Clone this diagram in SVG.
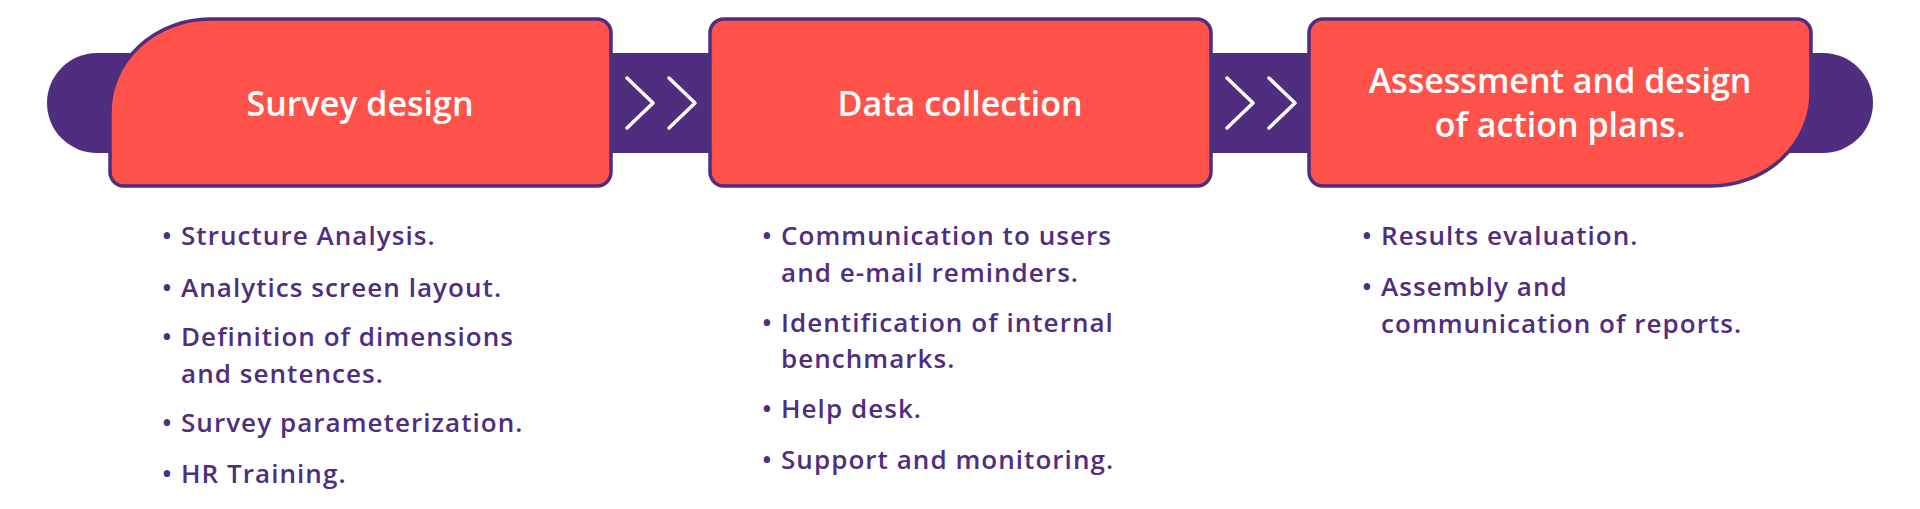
<svg xmlns="http://www.w3.org/2000/svg" width="1920" height="509" viewBox="0 0 1920 509">
<style>
.bar{fill:#4F2D7F}
.box{fill:#FF524A;stroke:#4F2D7F;stroke-width:3.5}
.title{font-family:"Open Sans","Liberation Sans",sans-serif;font-weight:600;font-size:34px;fill:#FFFFFF;text-anchor:middle}
.item{font-family:"Open Sans","Liberation Sans",sans-serif;font-weight:600;font-size:26px;letter-spacing:1.05px;fill:#4F2D7F}
.chev{fill:none;stroke:#FFFFFF;stroke-width:3.5;stroke-linecap:round;stroke-linejoin:round}
</style>
<rect width="1920" height="509" fill="#FFFFFF"/>
<g id="track">
<rect class="bar" x="47" y="53" width="1826" height="100" rx="50" ry="50"/>
</g>
<g id="connectors">
<polyline class="chev" points="627,78 653,103 627,128"/>
<polyline class="chev" points="669,78 695,103 669,128"/>
<polyline class="chev" points="1227,78 1253,103 1227,128"/>
<polyline class="chev" points="1269,78 1295,103 1269,128"/>
</g>
<g id="node-survey-design">
<path class="box" d="M124,186 L597,186 A14,14 0 0 0 611,172 L611,33 A14,14 0 0 0 597,19 L210,19 A100,93 0 0 0 110,112 L110,172 A14,14 0 0 0 124,186 Z"/>
<text class="title" x="360" y="116">Survey design</text>
<g class="item">
<text x="162" y="245">•</text><text x="181" y="245">Structure Analysis.</text>
<text x="162" y="297">•</text><text x="181" y="297">Analytics screen layout.</text>
<text x="162" y="346">•</text><text x="181" y="346">Definition of dimensions</text>
<text x="181" y="383">and sentences.</text>
<text x="162" y="432">•</text><text x="181" y="432">Survey parameterization.</text>
<text x="162" y="483">•</text><text x="181" y="483">HR Training.</text>
</g>
</g>
<g id="node-data-collection">
<path class="box" d="M724,186 L1197,186 A14,14 0 0 0 1211,172 L1211,33 A14,14 0 0 0 1197,19 L724,19 A14,14 0 0 0 710,33 L710,172 A14,14 0 0 0 724,186 Z"/>
<text class="title" x="960" y="116">Data collection</text>
<g class="item">
<text x="762" y="245">•</text><text x="781" y="245">Communication to users</text>
<text x="781" y="282">and e-mail reminders.</text>
<text x="762" y="332">•</text><text x="781" y="332">Identification of internal</text>
<text x="781" y="368">benchmarks.</text>
<text x="762" y="418">•</text><text x="781" y="418">Help desk.</text>
<text x="762" y="469">•</text><text x="781" y="469">Support and monitoring.</text>
</g>
</g>
<g id="node-assessment">
<path class="box" d="M1323,186 L1711,186 A100,93 0 0 0 1811,93 L1811,33 A14,14 0 0 0 1797,19 L1323,19 A14,14 0 0 0 1309,33 L1309,172 A14,14 0 0 0 1323,186 Z"/>
<text class="title" x="1560" y="93">Assessment and design</text>
<text class="title" x="1560" y="137">of action plans.</text>
<g class="item">
<text x="1362" y="245">•</text><text x="1381" y="245">Results evaluation.</text>
<text x="1362" y="296">•</text><text x="1381" y="296">Assembly and</text>
<text x="1381" y="333">communication of reports.</text>
</g>
</g>
</svg>
